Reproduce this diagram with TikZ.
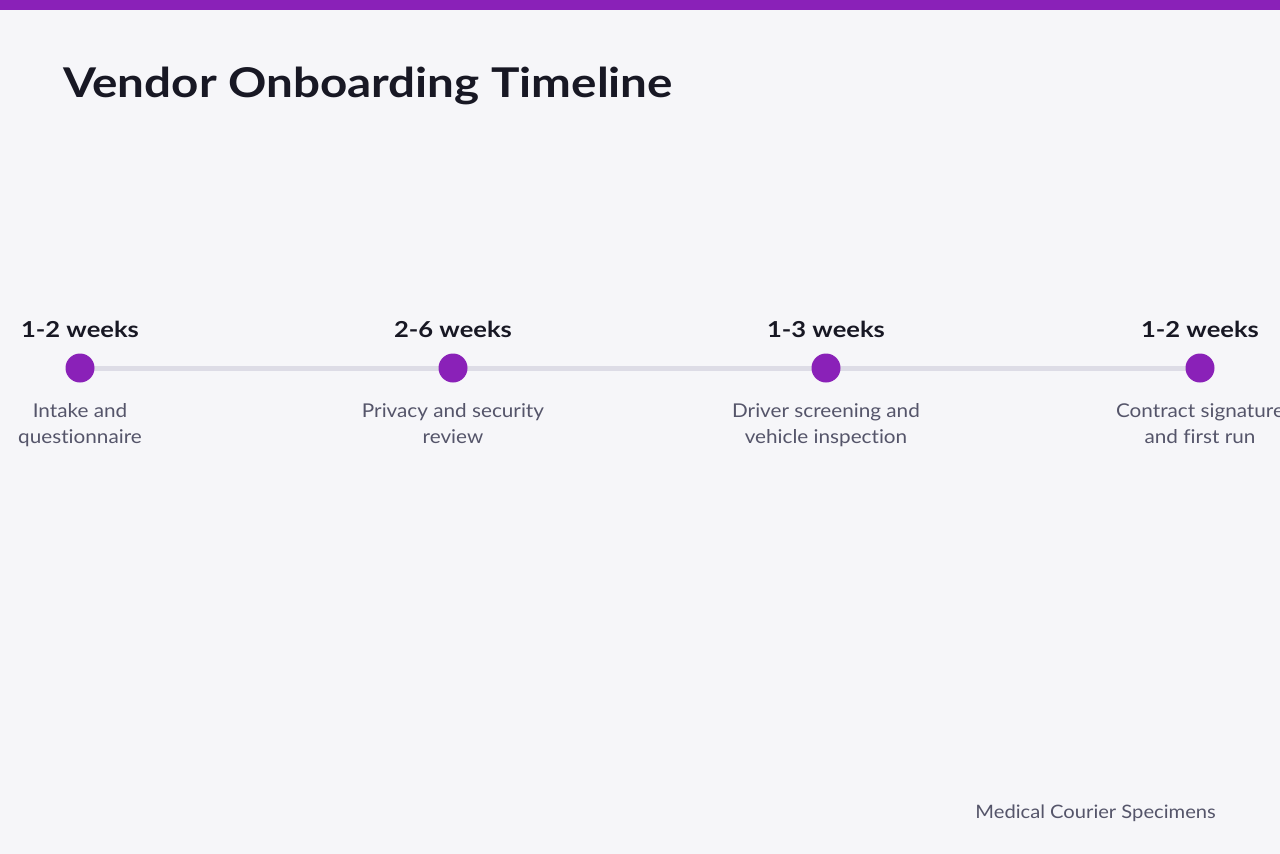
\documentclass[tikz,border=0pt]{standalone}
\usepackage{fontspec}
\setmainfont{Lato}[FakeStretch=1.09,Ligatures=NoCommon]
\newfontfamily\widebold{Lato}[FakeStretch=1.16,Ligatures=NoCommon]
\definecolor{bg}{HTML}{F6F6F9}
\definecolor{accent}{HTML}{8A21B8}
\definecolor{track}{HTML}{DDDCE6}
\definecolor{ink}{HTML}{181824}
\definecolor{muted}{HTML}{55556A}
\begin{document}
\begin{tikzpicture}[x=1pt,y=-1pt,
  dot/.style={circle,fill=accent,minimum size=29pt,inner sep=0pt},
  dur/.style={font=\widebold\fontsize{22}{26}\selectfont\bfseries,text=ink,anchor=base},
  desc/.style={font=\fontsize{19}{26}\selectfont,text=muted,align=center,anchor=north},
  trackline/.style={draw=track,line width=5pt}]
\useasboundingbox (0,0) rectangle (1280,854);
\clip (0,0) rectangle (1280,854);
\fill[bg] (0,0) rectangle (1280,854);
\fill[accent] (0,0) rectangle (1280,10);
\node[anchor=base west,font=\widebold\fontsize{41}{48}\selectfont\bfseries,text=ink,inner sep=0pt] (title) at (63,97) {Vendor Onboarding Timeline};
\foreach \i/\x in {1/80,2/453,3/826,4/1200} {
  \coordinate (c\i) at (\x,368);
}
\draw[trackline] (c1) -- (c2);
\draw[trackline] (c2) -- (c3);
\draw[trackline] (c3) -- (c4);
\node[dot] (d1) at (c1) {};
\node[dot] (d2) at (c2) {};
\node[dot] (d3) at (c3) {};
\node[dot] (d4) at (c4) {};
\node[dur] (t1) at (80,337) {1-2 weeks};
\node[dur] (t2) at (453,337) {2-6 weeks};
\node[dur] (t3) at (826,337) {1-3 weeks};
\node[dur] (t4) at (1200,337) {1-2 weeks};
\node[desc] (l1) at (80,400) {Intake and\\questionnaire};
\node[desc] (l2) at (453,400) {Privacy and security\\review};
\node[desc] (l3) at (826,400) {Driver screening and\\vehicle inspection};
\node[desc] (l4) at (1200,400) {Contract signature\\and first run};
\node[anchor=base east,font=\fontsize{18.5}{22}\selectfont,text=muted,inner sep=0pt] (foot) at (1216,818) {Medical Courier Specimens};
\end{tikzpicture}
\end{document}
